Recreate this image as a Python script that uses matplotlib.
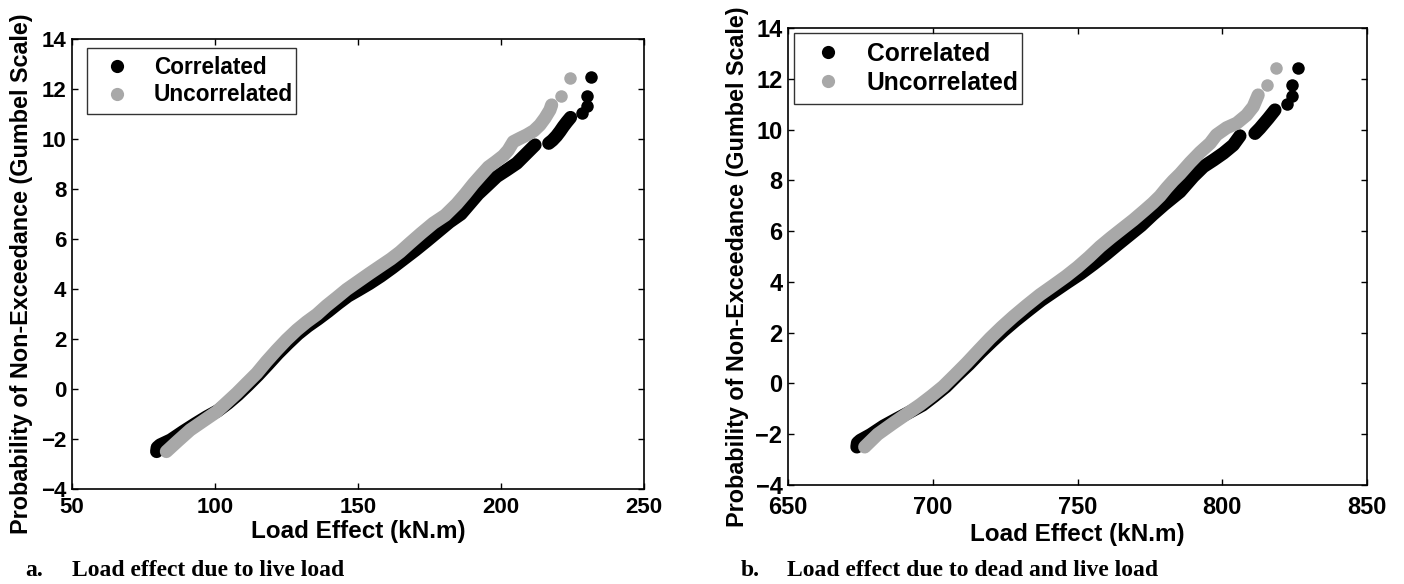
import matplotlib
matplotlib.use("Agg")
import matplotlib.pyplot as plt
from matplotlib.lines import Line2D

# ---- panel a: live load ----
a_corr_x = [79.6, 79.8, 80.8, 84.5, 88.9, 93, 97, 101, 104.5, 108, 111.5, 115,
            118.5, 122, 125.5, 129, 132.5, 136, 139.5, 143, 146.5, 150, 154,
            158, 162, 166, 170, 174, 178, 182, 186, 189, 192, 195, 198.5, 202,
            205.5, 209, 211.9]
a_corr_y = [-2.5, -2.34, -2.24, -2.04, -1.7, -1.4, -1.12, -0.87, -0.57, -0.23,
            0.15, 0.55, 0.98, 1.42, 1.82, 2.2, 2.52, 2.8, 3.1, 3.42, 3.72, 3.95,
            4.22, 4.52, 4.85, 5.2, 5.55, 5.92, 6.3, 6.68, 7.0, 7.4, 7.8, 8.12,
            8.5, 8.76, 9.03, 9.43, 9.76]
a_corr_x2 = [216.7, 218, 219.4, 220.6, 221.8, 223, 224.3]
a_corr_y2 = [9.83, 9.95, 10.12, 10.3, 10.5, 10.68, 10.86]
a_corr_xt = [228.2, 230.2, 230.2, 231.6]
a_corr_yt = [11.05, 11.33, 11.72, 12.47]

a_unc_x = [83, 87, 91.3, 96, 100.6, 104, 107.6, 111, 114.6, 118, 121.6, 125,
           128.6, 132, 135.6, 139, 142.6, 146, 150, 154, 158, 161.5, 164.7,
           168, 172, 176.3, 180.5, 184.5, 187.5, 190.3, 193, 195.6, 198, 200.8,
           202.5, 204.3, 206.5, 209, 211.5, 213.6, 215.4, 217.1, 217.7]
a_unc_y = [-2.5, -2.08, -1.64, -1.27, -0.91, -0.55, -0.17, 0.22, 0.63, 1.1,
           1.56, 1.97, 2.36, 2.68, 2.98, 3.33, 3.66, 3.98, 4.3, 4.62, 4.93, 5.2,
           5.48, 5.82, 6.22, 6.63, 6.95, 7.4, 7.8, 8.2, 8.55, 8.88, 9.08, 9.33,
           9.55, 9.89, 10.02, 10.16, 10.33, 10.56, 10.84, 11.16, 11.36]
a_unc_xt = [220.9, 224.1]
a_unc_yt = [11.72, 12.45]

# ---- panel b: dead and live load ----
b_corr_x = [673.8, 674, 675, 678.5, 683, 687.5, 692, 696.5, 700.5, 704.5,
            708.5, 712.5, 716.5, 720.5, 724.5, 728.5, 733, 737.5, 742, 746.5,
            751, 755.5, 760, 764, 768, 772, 776, 780, 785.4, 790, 793.5, 797,
            800.4, 803.8, 806.1]
b_corr_y = [-2.5, -2.34, -2.24, -2.02, -1.68, -1.4, -1.13, -0.85, -0.5, -0.13,
            0.32, 0.75, 1.22, 1.66, 2.08, 2.47, 2.88, 3.28, 3.63, 3.98, 4.32,
            4.7, 5.1, 5.48, 5.85, 6.22, 6.65, 7.05, 7.55, 8.15, 8.54, 8.8, 9.07,
            9.39, 9.75]
b_corr_x2 = [811.3, 813, 815.9, 818.2]
b_corr_y2 = [9.85, 10.05, 10.44, 10.77]
b_corr_xt = [822.3, 824.2, 824.2, 826.3]
b_corr_yt = [11.0, 11.32, 11.76, 12.44]

b_unc_x = [676.5, 681, 686.4, 691, 695.6, 699.5, 703.6, 707.6, 711.7, 715.8,
           719.8, 723.8, 727.8, 732.4, 737, 741.6, 746, 750, 754, 757.8, 761.5,
           765.5, 769.3, 773, 776, 778.5, 780.8, 783, 785.4, 788.9, 792.3,
           795.8, 798, 801.5, 805, 808.4, 810.7, 812.4]
b_unc_y = [-2.5, -2.0, -1.56, -1.2, -0.84, -0.5, -0.12, 0.33, 0.8, 1.3, 1.78,
           2.22, 2.63, 3.07, 3.49, 3.86, 4.22, 4.58, 4.98, 5.39, 5.74, 6.1,
           6.44, 6.8, 7.1, 7.38, 7.7, 7.98, 8.25, 8.7, 9.1, 9.46, 9.79, 10.07,
           10.25, 10.57, 10.9, 11.36]
b_unc_xt = [815.3, 818.6]
b_unc_yt = [11.76, 12.44]

labels = ["Correlated", "Uncorrelated"]
captions = [("a.", "Load effect due to live load"),
            ("b.", "Load effect due to dead and live load")]

BLACK = "#000000"
GREY = "#a8a8a8"
SANS = "Liberation Sans"
SERIF = "Liberation Serif"


def dibujar(ax, corr, unc, xlim, xticks, tick_fs, leg_fs, leg_box, xpad,
            xlabelpad):
    """Dibuja una grafica de la escala Gumbel."""
    cx, cy, cx2, cy2, cxt, cyt = corr
    ux, uy, uxt, uyt = unc
    band = dict(lw=9.5, solid_capstyle="round", solid_joinstyle="round")
    dot = dict(ls="none", marker="o", ms=9, mew=0)
    ax.plot(cx, cy, color=BLACK, **band)
    ax.plot(cx2, cy2, color=BLACK, **band)
    ax.plot(cxt, cyt, color=BLACK, **dot)
    ax.plot(ux, uy, color=GREY, **band)
    ax.plot(uxt, uyt, color=GREY, **dot)

    ax.set_xlim(*xlim)
    ax.set_ylim(-4, 14)
    ax.set_xticks(xticks)
    ax.set_yticks(range(-4, 15, 2))
    ax.tick_params(direction="in", length=4, width=1, top=True, right=True,
                   labelsize=tick_fs)
    ax.tick_params(axis="x", pad=xpad)
    ax.tick_params(axis="y", pad=4)
    for lab in ax.get_xticklabels() + ax.get_yticklabels():
        lab.set_fontweight("bold")
        lab.set_fontfamily(SANS)
    for s in ax.spines.values():
        s.set_linewidth(1.2)

    ax.set_xlabel("Load Effect (kN.m)", fontsize=17.5, fontweight="bold",
                  family=SANS, labelpad=xlabelpad)
    ax.set_ylabel("Probability of Non-Exceedance (Gumbel Scale)",
                  fontsize=16.8, fontweight="bold", family=SANS)
    ax.yaxis.set_label_coords(-0.068, 0.478)

    handles = [Line2D([], [], ls="none", marker="o", ms=9.5, mew=0, color=c)
               for c in (BLACK, GREY)]
    leg = ax.legend(handles, labels, loc="upper left", bbox_to_anchor=leg_box,
                    mode="expand", borderaxespad=0, fancybox=False,
                    frameon=True, handletextpad=0.6, labelspacing=0.2,
                    borderpad=0.35,
                    prop=dict(family=SANS, weight="bold", size=leg_fs))
    leg.get_frame().set_edgecolor("black")
    leg.get_frame().set_linewidth(1.0)


fig = plt.figure(figsize=(14.04, 5.84), dpi=100)
ax_a = fig.add_axes([72 / 1404, 1 - 489 / 584, 572 / 1404, 450 / 584])
ax_b = fig.add_axes([788 / 1404, 1 - 485 / 584, 579 / 1404, 457 / 584])

dibujar(ax_a,
        (a_corr_x, a_corr_y, a_corr_x2, a_corr_y2, a_corr_xt, a_corr_yt),
        (a_unc_x, a_unc_y, a_unc_xt, a_unc_yt),
        (50, 250), [50, 100, 150, 200, 250], 16, 16.3,
        (0.026, 0.84, 0.366, 0.14), 6, 1)
dibujar(ax_b,
        (b_corr_x, b_corr_y, b_corr_x2, b_corr_y2, b_corr_xt, b_corr_yt),
        (b_unc_x, b_unc_y, b_unc_xt, b_unc_yt),
        (650, 850), [650, 700, 750, 800, 850], 17, 17.7,
        (0.011, 0.835, 0.393, 0.153), 8, 3)

# Pies de figura
for (letra, texto), xl, xt in zip(captions, (25, 741), (72, 787)):
    fig.text(xl / 1404, 1 - 576 / 584, letra, family=SERIF, weight="bold",
             fontsize=17, va="baseline")
    fig.text(xt / 1404, 1 - 576 / 584, texto, family=SERIF, weight="bold",
             fontsize=17, va="baseline")

fig.savefig("out.png", dpi=100, facecolor="white")
